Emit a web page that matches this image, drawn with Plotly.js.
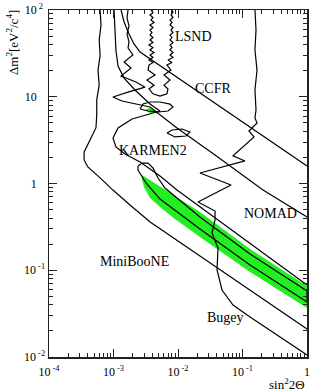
<!DOCTYPE html>
<html>
<head>
<meta charset="utf-8">
<script src="https://cdn.plot.ly/plotly-3.0.1.min.js"></script>
<style>html,body{margin:0;padding:0;background:#fff;}#chart{width:312px;height:392px;}</style>
</head>
<body>
<div id="chart"></div>
<script>
// ---- data: sin^2(2θ) and Δm^2 [eV^2/c^4] ----
const miniboone_s = [6.2e-4, 6.4e-4, 6.0e-4, 6.2e-4, 5.75e-4, 6.0e-4, 5.5e-4, 5.5e-4, 5.35e-4, 4.3e-4, 3.5e-4, 3.5e-4, 4.0e-4, 6.2e-4, 9.8e-4, 1.8e-3, 3.7e-3, 0.0219, 0.13, 1];
const miniboone_m = [100, 67, 45, 30, 20.3, 13.6, 9.2, 6.2, 4.4, 3.2, 2.3, 1.87, 1.55, 1.16, 0.84, 0.565, 0.36, 0.146, 0.059, 0.021];

const ccfr_s = [1.31e-3, 1.46e-3, 1.74e-3, 2.08e-3, 2.58e-3, 1];
const ccfr_m = [100, 72.8, 52.8, 40.6, 32.8, 1.59];

const nomad_s = [1.68e-3, 1.62e-3, 1.74e-3, 1.62e-3, 1.74e-3, 1.68e-3, 2.0e-3, 1.46e-3, 1.87e-3, 1.31e-3, 2.23e-3, 3.08e-3, 1.68e-3, 9.8e-4, 1.355e-3, 3.68e-3, 9.64e-3, 0.0375, 0.208, 1];
const nomad_m = [100, 80.9, 65.5, 52.8, 42.8, 36.5, 30.3, 25.2, 21.4, 17.3, 14.8, 12.9, 11.3, 9.93, 8.93, 7.62, 4.36, 2.13, 0.841, 0.411];

const karmen_s = [1.02e-3, 1.055e-3, 1.09e-3, 1.175e-3, 1.46e-3, 2.15e-3, 3.68e-3, 5.26e-3, 3.68e-3, 1.94e-3, 1.175e-3, 9.82e-4, 1.09e-3, 1.51e-3, 2.58e-3, 5.26e-3, 9.64e-3, 1];
const karmen_m = [100, 58.8, 34.6, 22.6, 16.4, 11.97, 8.24, 6.85, 6.33, 5.54, 4.36, 3.34, 2.64, 2.19, 1.77, 1.22, 0.841, 0.0676];

const bugey_s = [0.156, 0.162, 0.156, 0.168, 0.156, 0.162, 0.156, 0.168, 0.126, 0.151, 0.0713, 0.109, 0.0219, 0.0664, 0.0204, 0.0375, 0.0375, 0.0337, 0.0417, 0.0403, 0.0481, 0.0713, 0.131, 1];
const bugey_m = [100, 58.8, 34.6, 20.3, 11.97, 7.03, 5.69, 4.98, 4.03, 3.44, 2.08, 1.82, 1.32, 0.962, 0.612, 0.482, 0.380, 0.269, 0.180, 0.1007, 0.0592, 0.0397, 0.0289, 0.01055];

// LSND high-Δm² contour (left edge down, closing loop, right edge up)
const lsndHigh_s = [3.81e-3,4.09e-3,3.68e-3,4.09e-3,3.81e-3,4.25e-3,3.68e-3,4.09e-3,3.68e-3,3.95e-3,3.68e-3,4.09e-3,3.68e-3,4.09e-3,3.55e-3,4.09e-3,3.68e-3,4.25e-3,3.68e-3,4.09e-3,3.55e-3,4.09e-3,3.55e-3,
  3.43e-3,4.40e-3,3.30e-3,4.25e-3,3.55e-3,4.09e-3,5.26e-3,6.75e-3,7.00e-3,6.07e-3,7.52e-3,6.07e-3,7.78e-3,
  6.75e-3,8.07e-3,7.00e-3,8.36e-3,7.52e-3,8.36e-3,7.52e-3,8.07e-3,7.52e-3,8.36e-3,7.52e-3,8.07e-3,7.52e-3,8.36e-3,7.78e-3,8.36e-3,7.52e-3,8.07e-3,7.52e-3,8.36e-3,7.78e-3,8.36e-3,8.07e-3];
const lsndHigh_m = [100,93.6,87.6,81.9,76.7,71.8,67.2,62.9,58.8,55.0,51.5,48.2,45.1,42.2,39.5,37.0,34.6,32.4,30.3,28.4,26.5,24.8,23.2,
  20.3,17.8,15.6,13.6,12.3,10.8,10.2,10.8,12.3,13.6,15.6,17.8,20.3,
  23.2,24.8,26.5,28.4,30.3,32.4,34.6,37.0,39.5,42.2,45.1,48.2,51.5,55.0,58.8,62.9,67.2,71.8,76.7,81.9,87.6,93.6,100];
// LSND islands
const lsndIslA_s = [2.58e-3,2.86e-3,3.68e-3,5.26e-3,7.52e-3,8.36e-3,7.00e-3,4.90e-3,3.43e-3,2.58e-3];
const lsndIslA_m = [7.22,8.24,8.70,8.70,8.24,7.62,6.85,6.67,6.85,7.22];
const lsndIslB_s = [6.75e-3,8.07e-3,0.01153,0.01535,0.0133,8.97e-3,6.75e-3];
const lsndIslB_m = [3.82,4.14,4.25,3.92,3.53,3.44,3.82];
// LSND filled regions
const lsndSpot_s = [3.08e-3,3.55e-3,4.40e-3,4.72e-3,3.68e-3,3.08e-3];
const lsndSpot_m = [7.03,7.42,7.03,6.50,6.50,7.03];
const lsndBand_s = [2.77e-3, 3.68e-3, 8.97e-3, 0.0219, 0.131, 1, 1, 0.131, 0.0219, 8.97e-3, 5.26e-3, 3.68e-3, 2.97e-3, 2.77e-3];
const lsndBand_m = [1.253, 1.096, 0.718, 0.469, 0.176, 0.0658, 0.0367, 0.0955, 0.2415, 0.390, 0.536, 0.681, 0.912, 1.096];
// LSND band outline
const lsndLine_s = [2.40e-3,2.77e-3,3.43e-3,4.09e-3,4.90e-3,6.28e-3,0.0219,0.131,1,1,0.131,0.0219,5.26e-3,3.19e-3,2.40e-3,2.40e-3];
const lsndLine_m = [1.59,1.72,1.72,1.51,1.156,0.887,0.411,0.154,0.0577,0.0431,0.115,0.299,0.662,1.014,1.43,1.59];

const xTickVals = [1e-4, 1e-3, 1e-2, 1e-1, 1];
const xTickText = ['10<sup>\u00a0-4</sup>', '10<sup>\u00a0-3</sup>', '10<sup>\u00a0-2</sup>', '10<sup>\u00a0-1</sup>', '1'];
const yTickVals = [1e-2, 1e-1, 1, 10, 100];
const yTickText = ['10<sup>\u00a0-2</sup>', '10<sup>\u00a0-1</sup>', '1<sup>\u00a0\u00a0\u00a0\u00a0</sup>', '10<sup>\u00a0\u00a0\u00a0\u00a0</sup>', '10<sup>\u00a02\u00a0</sup>'];

// label positions (sin^2 2θ, Δm^2)
const labels = [
  {t: 'LSND', s: 0.0171, m: 48.9},
  {t: 'CCFR', s: 0.0349, m: 12.6},
  {t: 'KARMEN2', s: 4.09e-3, m: 2.37},
  {t: 'NOMAD', s: 0.267, m: 0.457},
  {t: 'MiniBooNE', s: 2.15e-3, m: 0.1245},
  {t: 'Bugey', s: 0.0536, m: 0.0282}
];

const GREEN = '#22ee22';
const lineStyle = {color: '#000', width: 1.2};
function curve(xs, ys) {
  return {x: xs, y: ys, type: 'scatter', mode: 'lines', line: lineStyle, hoverinfo: 'skip', showlegend: false};
}
function filled(xs, ys) {
  return {x: xs, y: ys, type: 'scatter', mode: 'lines', fill: 'toself', fillcolor: GREEN, line: {width: 0, color: GREEN}, hoverinfo: 'skip', showlegend: false};
}

const data = [
  filled(lsndBand_s, lsndBand_m),
  filled(lsndSpot_s, lsndSpot_m),
  curve(lsndLine_s, lsndLine_m),
  curve(lsndHigh_s, lsndHigh_m),
  curve(lsndIslA_s, lsndIslA_m),
  curve(lsndIslB_s, lsndIslB_m),
  curve(miniboone_s, miniboone_m),
  curve(ccfr_s, ccfr_m),
  curve(nomad_s, nomad_m),
  curve(karmen_s, karmen_m),
  curve(bugey_s, bugey_m)
];

const FONT = 'Liberation Serif, Times New Roman, serif';
const axisCommon = {
  type: 'log', showgrid: false, zeroline: false,
  showline: true, linecolor: '#222', linewidth: 1.5, mirror: 'allticks',
  ticks: 'inside', ticklen: 8, tickwidth: 1, tickcolor: '#222',
  tickmode: 'array',
  minor: {ticks: 'inside', ticklen: 4, tickwidth: 1, tickcolor: '#222', dtick: 'D1', showgrid: false},
  tickfont: {family: FONT, size: 12, color: '#000'}
};

const annotations = labels.map(l => ({
  x: Math.log10(l.s), y: Math.log10(l.m), xref: 'x', yref: 'y', text: l.t, showarrow: false,
  font: {family: FONT, size: 14, color: '#000'}, xanchor: 'center', yanchor: 'middle'
}));
annotations.push({
  xref: 'paper', yref: 'paper', x: -0.143, y: 0.905, text: '\u0394m<sup>2</sup>[eV<sup>2</sup>/c<sup>4</sup>]',
  textangle: -90, showarrow: false, xanchor: 'center', yanchor: 'middle',
  font: {family: FONT, size: 13, color: '#000'}
});
annotations.push({
  xref: 'paper', yref: 'paper', x: 1.0, y: -0.078, text: 'sin<sup>2</sup>2\u0398',
  showarrow: false, xanchor: 'right', yanchor: 'middle',
  font: {family: FONT, size: 13, color: '#000'}
});

const layout = {
  width: 312, height: 392,
  margin: {l: 49, r: 5, t: 10, b: 35},
  paper_bgcolor: '#fff', plot_bgcolor: '#fff',
  xaxis: Object.assign({}, axisCommon, {range: [-4, 0], tickvals: xTickVals, ticktext: xTickText, ticklabelstandoff: 3}),
  yaxis: Object.assign({}, axisCommon, {range: [-2, 2], tickvals: yTickVals, ticktext: yTickText}),
  annotations: annotations
};

Plotly.newPlot('chart', data, layout, {staticPlot: true, displayModeBar: false});
</script>
</body>
</html>
